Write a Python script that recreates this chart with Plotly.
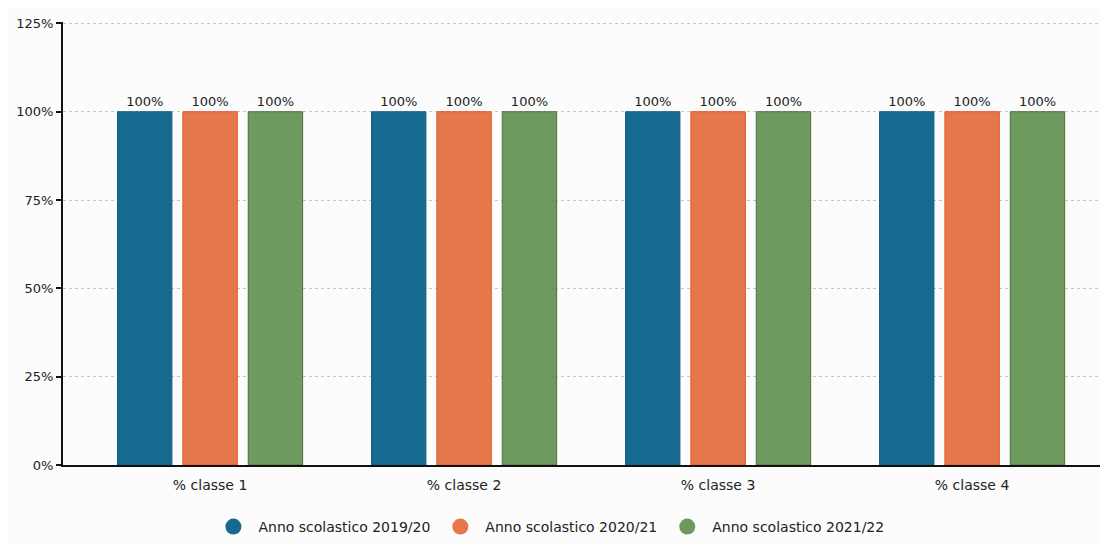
import plotly.graph_objects as go

categories = ["% classe 1", "% classe 2", "% classe 3", "% classe 4"]
series_names = ["Anno scolastico 2019/20", "Anno scolastico 2020/21", "Anno scolastico 2021/22"]
values_2019 = [100, 100, 100, 100]
values_2020 = [100, 100, 100, 100]
values_2021 = [100, 100, 100, 100]
y_ticks = [0, 25, 50, 75, 100, 125]
y_tick_labels = ["0%", "25%", "50%", "75%", "100%", "125%"]
colors = ["#176a8f", "#e5784b", "#6e9a5f"]
edge_colors = ["#165f80", "#e8502e", "#4d7040"]

FONT = "DejaVu Sans, Open Sans, sans-serif"

fig = go.Figure()
for name, values, color, edge in zip(series_names, [values_2019, values_2020, values_2021], colors, edge_colors):
    fig.add_trace(
        go.Bar(
            x=categories,
            y=values,
            name=name,
            marker={"color": color, "line": {"color": edge, "width": 1}},
            text=[f"{v}%" for v in values],
            textposition="outside",
            textfont={"size": 13, "color": "#222222"},
            cliponaxis=False,
            showlegend=False,
        )
    )
    # circle markers for the legend
    fig.add_trace(
        go.Scatter(
            x=[None],
            y=[None],
            mode="markers",
            name=name,
            marker={"color": color, "size": 16, "symbol": "circle"},
        )
    )

# the page body has an 8px margin, so the figure is shifted accordingly
fig.update_layout(
    width=1100,
    height=537,
    barmode="group",
    bargap=0.228,
    bargroupgap=0.168,
    paper_bgcolor="#fbfcfb",
    plot_bgcolor="#fbfcfb",
    font={"family": FONT, "size": 13, "color": "#222222"},
    margin={"l": 55, "r": 0, "t": 14, "b": 80},
    legend={
        "orientation": "h",
        "x": 0.465,
        "xanchor": "center",
        "y": -0.14,
        "yanchor": "middle",
        "font": {"size": 14, "color": "#222222"},
        "itemsizing": "trace",
        "itemwidth": 40,
        "bgcolor": "rgba(0,0,0,0)",
    },
    xaxis={
        "type": "category",
        "range": [-0.579, 3.535],
        "automargin": False,
        "showline": True,
        "linecolor": "#111111",
        "linewidth": 2,
        "ticks": "",
        "ticklabelstandoff": 6,
        "tickfont": {"size": 14, "color": "#222222"},
        "showgrid": False,
        "zeroline": False,
    },
    yaxis={
        "range": [0, 125.4],
        "automargin": False,
        "tickvals": y_ticks,
        "ticktext": y_tick_labels,
        "showline": True,
        "linecolor": "#111111",
        "linewidth": 2,
        "ticks": "outside",
        "ticklen": 5,
        "tickcolor": "#111111",
        "tickwidth": 2,
        "showgrid": True,
        "gridcolor": "#c8c8c8",
        "griddash": "dot",
        "gridwidth": 1,
        "zeroline": False,
        "tickfont": {"size": 13, "color": "#222222"},
    },
)

fig.write_html("out.html")
